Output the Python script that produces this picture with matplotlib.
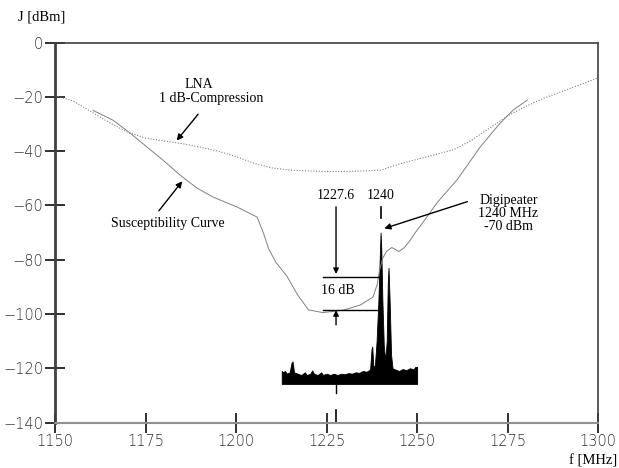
import matplotlib
matplotlib.use("Agg")
import matplotlib.pyplot as plt
import numpy as np

# LNA 1 dB compression point (dotted)
lna_f = [1150, 1155, 1160, 1165, 1170, 1175, 1180, 1185, 1190, 1195, 1200,
         1205, 1210, 1215, 1220, 1225, 1230, 1235, 1240, 1245, 1250, 1255,
         1260, 1265, 1270, 1275, 1280, 1285, 1290, 1295, 1300]
lna_db = [-19.5, -21.5, -25.5, -29.5, -33.0, -35.2, -36.2, -37.2, -38.5,
          -40.0, -42.0, -44.5, -46.2, -47.0, -47.3, -47.5, -47.5, -47.3,
          -47.0, -44.8, -43.0, -41.3, -39.5, -36.0, -31.5, -27.0, -23.5,
          -20.5, -18.0, -15.5, -13.0]

# susceptibility curve
sus_f = [1160.5, 1166, 1170.7, 1175.4, 1179.8, 1184.5, 1189.2, 1193.6, 1200.3,
         1205.8, 1207.5, 1209, 1211, 1214, 1217, 1220, 1224, 1229.6, 1234.3,
         1237.8, 1239, 1239.6, 1240.5, 1241.5, 1243, 1245, 1246.5, 1248,
         1249.5, 1251.5, 1255.5, 1261, 1267.4, 1272.9, 1276.5, 1280.4]
sus_db = [-25.0, -28.6, -33.3, -38.5, -43.3, -48.8, -53.6, -56.9, -60.6,
          -64.3, -70.0, -76.0, -81.0, -86.0, -93.0, -98.5, -99.5, -98.6, -96.7,
          -93.8, -89.0, -84.0, -79.5, -77.0, -75.5, -77.0, -75.5, -73.0,
          -70.0, -66.5, -59.0, -50.6, -38.5, -29.7, -24.9, -21.2]

# measured spectrum (inset)
spec_f = [1212.6, 1213, 1213.5, 1214, 1214.8, 1215.3, 1215.6, 1216, 1217, 1218,
          1219, 1219.5, 1220.5, 1221, 1221.5, 1222.5, 1223.5, 1224, 1225, 1226,
          1227, 1228, 1229, 1230, 1231, 1232, 1233, 1234, 1235, 1236, 1237,
          1237.4, 1237.6, 1237.9, 1238.3, 1238.8, 1239.3, 1239.7, 1239.9,
          1240.1, 1240.4, 1240.8, 1241.2, 1241.6, 1241.9, 1242.1, 1242.4,
          1242.8, 1243.2, 1244, 1245, 1246, 1247, 1248, 1249, 1249.5, 1250]
spec_db = [-121.0, -121.5, -121.0, -122.0, -121.5, -118.0, -117.5, -121.5,
           -122.0, -122.5, -121.5, -122.5, -122.0, -120.8, -122.0, -122.5,
           -121.5, -122.5, -122.0, -122.5, -122.0, -122.5, -122.0, -122.2,
           -121.8, -122.0, -121.5, -121.7, -121.0, -121.3, -120.5, -113.0,
           -112.0, -119.0, -119.5, -110.0, -95.0, -78.0, -70.0, -76.0, -95.0,
           -112.0, -117.0, -110.0, -88.0, -83.0, -95.0, -115.0, -120.0, -120.5,
           -121.0, -120.3, -120.7, -120.0, -120.4, -119.5, -119.5]
spec_floor = -125.8

xticks = [1150, 1175, 1200, 1225, 1250, 1275, 1300]
yticks = [0, -20, -40, -60, -80, -100, -120, -140]

serif = "Liberation Serif"

fig = plt.figure(figsize=(6.19, 4.68), dpi=100)
ax = fig.add_axes([0.0889, 0.0972, 0.8775, 0.8118])

ax.plot(lna_f, lna_db, color="#808080", lw=0.8, ls=(0, (1, 1.5)))
ax.plot(sus_f, sus_db, color="#808080", lw=0.7)
ax.fill_between(spec_f, spec_db, spec_floor, color="black", lw=0.6,
                edgecolor="black")

ax.set_xlim(1150, 1300)
ax.set_ylim(-140, 0)
ax.set_xticks(xticks)
ax.set_yticks(yticks)
ax.tick_params(direction="inout", length=14, width=1.3, color="#202020",
               labelsize=10.5, pad=1.5, labelcolor="#303030")
for lab in ax.get_xticklabels() + ax.get_yticklabels():
    lab.set_fontweight("light")

for s in ["top", "right"]:
    ax.spines[s].set_color("#404040")
    ax.spines[s].set_linewidth(1.2)
ax.spines["left"].set_color("#404040")
ax.spines["left"].set_linewidth(2.0)
ax.spines["bottom"].set_color("#909090")
ax.spines["bottom"].set_linewidth(1.5)

# 1227.6 marker
f0 = 1227.6
ax.text(f0, -56.5, "1227.6", family=serif, fontsize=10, ha="center", va="center")
ax.annotate("", xy=(f0, -86.3), xytext=(f0, -59.5),
            arrowprops=dict(arrowstyle="-|>", color="black", lw=1.0,
                            mutation_scale=8))
ax.annotate("", xy=(f0, -98.6), xytext=(f0, -104.0),
            arrowprops=dict(arrowstyle="-|>", color="black", lw=1.0,
                            mutation_scale=8, shrinkA=0, shrinkB=0))
ax.plot([1224.0, 1240.0], [-86.3, -86.3], color="black", lw=1.0)
ax.plot([1224.0, 1239.6], [-98.6, -98.6], color="black", lw=1.0)
ax.text(1228.2, -91.5, "16 dB", family=serif, fontsize=10, ha="center", va="center")
ax.plot([f0, f0], [-126, -129.3], color="black", lw=1.0)
ax.plot([f0, f0], [-135.3, -140], color="black", lw=1.2)

# 1240 marker
ax.text(1240, -56.5, "1240", family=serif, fontsize=10, ha="center", va="center")
ax.plot([1240, 1240], [-60.5, -64.8], color="black", lw=1.2)

# annotations
ax.annotate("", xy=(1240.2, -68.8), xytext=(1264.6, -58.3),
            arrowprops=dict(arrowstyle="-|>", color="black", lw=1.0,
                            mutation_scale=9))
ax.text(1275.2, -63, "Digipeater\n1240 MHz\n-70 dBm", family=serif, fontsize=10,
        ha="center", va="center", linespacing=1.0)

ax.text(1189.8, -15.3, "LNA", family=serif, fontsize=10, ha="center", va="center")
ax.text(1193.2, -20.5, "1 dB-Compression", family=serif, fontsize=10,
        ha="center", va="center")
ax.annotate("", xy=(1183.1, -36.9), xytext=(1190.0, -25.6),
            arrowprops=dict(arrowstyle="-|>", color="black", lw=1.0,
                            mutation_scale=9))

ax.text(1181.2, -66.6, "Susceptibility Curve", family=serif, fontsize=10,
        ha="center", va="center")
ax.annotate("", xy=(1185.6, -50.3), xytext=(1178.2, -62.8),
            arrowprops=dict(arrowstyle="-|>", color="black", lw=1.0,
                            mutation_scale=9))

fig.text(18 / 619, 1 - 17 / 468, "J [dBm]", family=serif, fontsize=10.5,
         ha="left", va="center")
fig.text(617 / 619, 1 - 461 / 468, "f [MHz]", family=serif, fontsize=10.5,
         ha="right", va="center")

fig.savefig("out.png", dpi=100)
